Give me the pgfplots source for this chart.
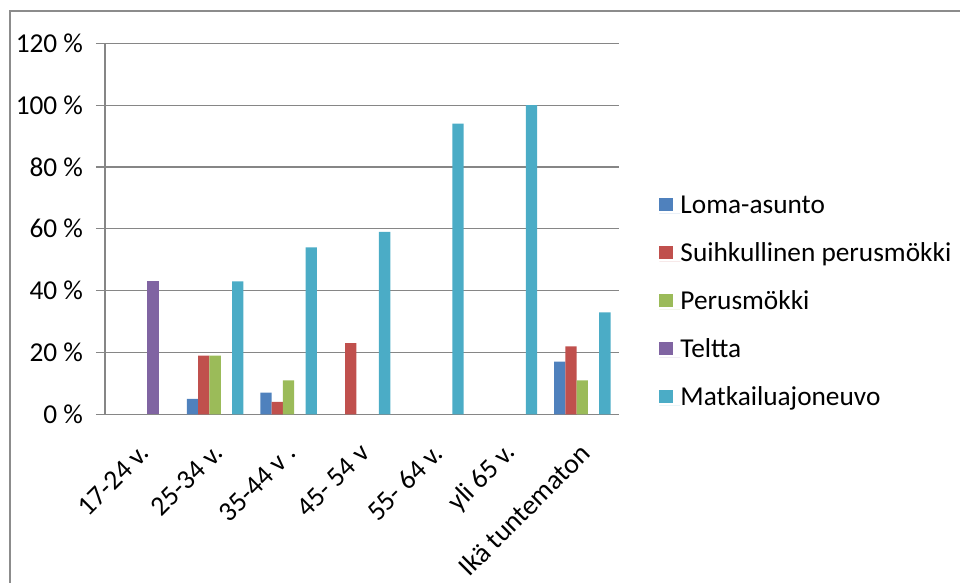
\documentclass[border=0pt]{standalone}
\usepackage{pgfplots}
\pgfplotsset{compat=1.18}
\usepackage{fontspec}
\setmainfont{Carlito}

\definecolor{lomablue}{RGB}{79,129,189}
\definecolor{suihkured}{RGB}{192,80,77}
\definecolor{perusgreen}{RGB}{155,187,89}
\definecolor{telttapurple}{RGB}{128,100,162}
\definecolor{matkacyan}{RGB}{75,172,198}
\definecolor{gridgray}{RGB}{134,134,134}
\definecolor{framegray}{RGB}{140,140,140}

\begin{document}
\begin{tikzpicture}[font=\fontsize{13.7}{16}\selectfont]
\useasboundingbox (0,0) rectangle (480bp,291.5bp);
% outer chart frame (only top and left edges are visible)
\draw[framegray, line width=1bp] (5bp,-2bp) -- (5bp,286bp) -- (482bp,286bp);

\begin{axis}[
  at={(52.5bp,84.35bp)}, anchor=south west,
  scale only axis,
  width=257bp, height=185.5bp,
  ybar=0pt, bar width=5.65bp,
  xmin=-0.5, xmax=6.5,
  ymin=0, ymax=120,
  ytick={0,20,...,120},
  yticklabel={\pgfmathprintnumber{\tick}\ \%},
  /pgf/number format/assume math mode=true,
  xtick={0,...,6},
  xticklabels={17-24 v.,25-34 v.,35-44 v .,45- 54 v,55- 64 v.,yli 65 v.,Ikä tuntematon},
  xticklabel style={rotate=45, anchor=east, xshift=-4.5bp, yshift=-10bp,
    font=\fontsize{13.9}{16}\selectfont},
  x tick style={draw=none},
  extra x ticks={-0.5,0.5,...,6.5},
  extra x tick labels={},
  extra x tick style={tick style={draw=gridgray, line width=0.6bp}},
  major tick length=4.5bp,
  y tick style={gridgray, line width=0.6bp},
  tick align=outside,
  axis lines*=left,
  axis line style={gridgray, line width=0.6bp},
  ymajorgrids,
  y grid style={gridgray, line width=0.6bp},
  yticklabel style={anchor=east, xshift=-3bp},
  legend style={draw=none, fill=none, at={(1.078,0.3)}, anchor=west,
    inner sep=0pt, row sep=12bp,
    nodes={inner sep=0pt, text height=9bp, text depth=3bp, anchor=base west}},
  legend cell align=left,
  legend image code/.code={\fill[#1] (0bp,0.85bp) rectangle (6.7bp,7.55bp);
    \path (0bp,0bp) -- (10.5bp,0bp);},
  every axis plot/.append style={draw=none},
]
\addplot[fill=lomablue] coordinates {(1,5) (2,7) (6,17)};
\addplot[fill=suihkured] coordinates {(1,19) (2,4) (3,23) (6,22)};
\addplot[fill=perusgreen] coordinates {(1,19) (2,11) (6,11)};
\addplot[fill=telttapurple] coordinates {(0,43)};
\addplot[fill=matkacyan] coordinates {(1,43) (2,54) (3,59) (4,94) (5,100) (6,33)};
\legend{Loma-asunto,Suihkullinen perusmökki,Perusmökki,Teltta,Matkailuajoneuvo}
\end{axis}
\end{tikzpicture}
\end{document}
